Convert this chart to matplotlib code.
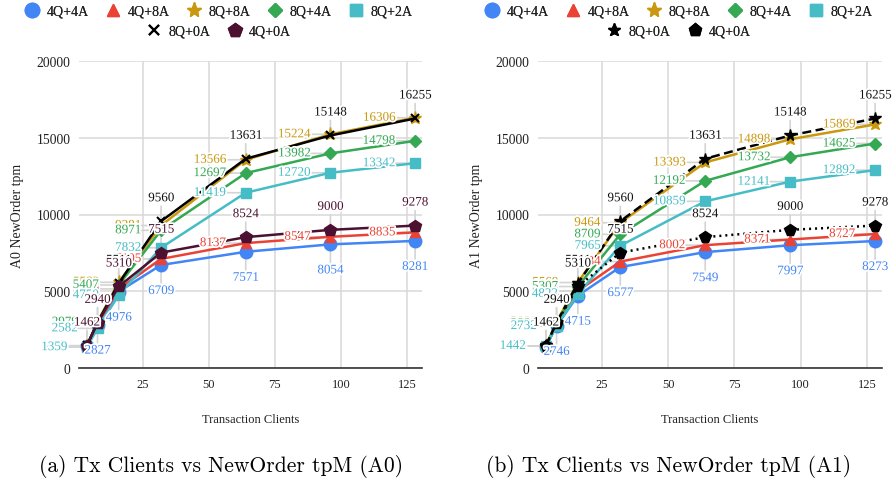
import matplotlib
matplotlib.use("Agg")
import matplotlib.pyplot as plt
from matplotlib.lines import Line2D
import matplotlib.patheffects as pe

plt.rcParams['font.family'] = ['Liberation Serif', 'DejaVu Serif']

clients = [4, 8, 16, 32, 64, 96, 128]
series_names = ["4Q+4A", "4Q+8A", "8Q+8A", "8Q+4A", "8Q+2A", "8Q+0A", "4Q+0A"]

a0_4q4a = [1410, 2827, 4976, 6709, 7571, 8054, 8281]
a0_4q8a = [1440, 2890, 5150, 7105, 8137, 8547, 8835]
a0_8q8a = [1455, 3012, 5583, 9281, 13566, 15224, 16306]
a0_8q4a = [1445, 2979, 5407, 8971, 12697, 13982, 14798]
a0_8q2a = [1359, 2582, 4750, 7832, 11419, 12720, 13342]
a0_8q0a = [1470, 2960, 5511, 9560, 13631, 15148, 16255]
a0_4q0a = [1462, 2940, 5310, 7515, 8524, 9000, 9278]

a1_4q4a = [1400, 2746, 4715, 6577, 7549, 7997, 8273]
a1_4q8a = [1430, 2840, 5020, 6934, 8002, 8371, 8727]
a1_8q8a = [1442, 3000, 5569, 9464, 13393, 14898, 15869]
a1_8q4a = [1438, 2880, 5307, 8709, 12192, 13732, 14625]
a1_8q2a = [1442, 2732, 4823, 7965, 10859, 12141, 12892]
a1_8q0a = [1470, 2960, 5511, 9560, 13631, 15148, 16255]
a1_4q0a = [1462, 2940, 5310, 7515, 8524, 9000, 9278]

x_ticks = [25, 50, 75, 100, 125]
y_ticks = [0, 5000, 10000, 15000, 20000]

BLUE = "#4285F4"
RED = "#EA4335"
GOLD = "#C9980E"
GREEN = "#34A853"
CYAN = "#46BDC6"
PURPLE = "#4C1130"
BLACK = "#000000"

label_pos = ["below", "left", "left", "left", "left", "above", "above"]

styles_a0 = [
    dict(color=BLUE, marker='o', ms=9, ls='-'),
    dict(color=RED, marker='^', ms=7.5, ls='-'),
    dict(color=GOLD, marker='*', ms=9.5, ls='-'),
    dict(color=GREEN, marker='D', ms=6, ls='-'),
    dict(color=CYAN, marker='s', ms=7, ls='-'),
    dict(color=BLACK, marker='x', ms=6, ls='-', mew=1.5),
    dict(color=PURPLE, marker='p', ms=9, ls='-'),
]
styles_a1 = [
    dict(color=BLUE, marker='o', ms=9, ls='-'),
    dict(color=RED, marker='^', ms=7.5, ls='-'),
    dict(color=GOLD, marker='*', ms=9.5, ls='-'),
    dict(color=GREEN, marker='D', ms=6, ls='-'),
    dict(color=CYAN, marker='s', ms=7, ls='-'),
    dict(color=BLACK, marker='*', ms=8.5, ls=(0, (3.6, 1.8))),
    dict(color=BLACK, marker='p', ms=8.5, ls=(0, (0.8, 1.6))),
]

fig = plt.figure(figsize=(8.92, 4.89), dpi=100)
W, H = 892, 489

def px(v):
    return v * 0.72  # pixels -> points at 100 dpi

def draw_panel(ax, data, styles, ylabel):
    ax.set_xlim(1, 130.6)
    ax.set_ylim(0, 20000)
    ax.set_xticks(x_ticks)
    ax.set_yticks(y_ticks)
    ax.grid(True, color="#d9d9d9", lw=1.1, zorder=0)
    ax.set_axisbelow(True)
    for s in ['top', 'right', 'left']:
        ax.spines[s].set_visible(False)
    ax.spines['bottom'].set_color('#333333')
    ax.spines['bottom'].set_linewidth(1.2)
    ax.tick_params(axis='both', length=0, colors='#222222')
    ax.tick_params(axis='y', labelsize=9.8, pad=6)
    ax.tick_params(axis='x', labelsize=9, pad=7)
    ax.set_xlabel("Transaction Clients", fontsize=9, labelpad=17, color='#222222')
    ax.set_ylabel(ylabel, fontsize=10, labelpad=9, color='#222222')

    for i, (vals, st) in enumerate(zip(data, styles)):
        ax.plot(clients, vals, color=st['color'], ls=st['ls'], lw=1.8,
                marker=st['marker'], ms=st['ms'], mew=st.get('mew', 1),
                zorder=3 + i * 0.1)
    # leader lines and labels
    for i, (vals, st) in enumerate(zip(data, styles)):
        pos = label_pos[i]
        tcol = st['color'] if st['color'] != BLACK else '#111111'
        for xv, yv in zip(clients, vals):
            if pos == "above":
                off = (0, px(23)); lend = (0, px(15)); ha, va = 'center', 'center'
            elif pos == "below":
                if yv < 2000:
                    continue  # label falls below the plotting area (not shown)
                off = (0, -px(26)); lend = (0, -px(18)); ha, va = 'center', 'center'
            else:
                off = (-px(20), 0); lend = (-px(20), 0); ha, va = 'right', 'center'
            ax.annotate('', xy=(xv, yv), xytext=lend, textcoords='offset points',
                        arrowprops=dict(arrowstyle='-', color='#d4d4d4', lw=1.2,
                                        shrinkA=0, shrinkB=0),
                        zorder=2, annotation_clip=False)
            t = ax.annotate(str(yv), xy=(xv, yv), xytext=off, textcoords='offset points',
                            ha=ha, va=va, fontsize=9.4, color=tcol,
                            zorder=10 + i * 0.1, annotation_clip=False)
            t.set_path_effects([pe.withStroke(linewidth=2.5, foreground='white')])


def legend_rows(styles, cx, fig):
    handles = [Line2D([], [], ls='none', marker=st['marker'], color=st['color'],
                      ms=(st['ms'] * 1.15 if st['marker'] != 'x' else 7),
                      mew=st.get('mew', 1)) for st in styles]
    rows = [(handles[:5], series_names[:5], 1 - 12 / H), (handles[5:], series_names[5:], 1 - 32 / H)]
    for hs, ls, y in rows:
        lg = fig.legend(hs, ls, loc='center', bbox_to_anchor=(cx / W, y), ncol=len(hs),
                        frameon=False, fontsize=10, handlelength=1.0, handletextpad=0.55,
                        columnspacing=1.25, borderpad=0, borderaxespad=0)
        for txt in lg.get_texts():
            txt.set_color('#222222')
        fig.add_artist(lg)


ax1 = fig.add_axes([79 / W, 120 / H, 343 / W, 307 / H])
ax2 = fig.add_axes([538 / W, 120 / H, 344 / W, 307 / H])

draw_panel(ax1, [a0_4q4a, a0_4q8a, a0_8q8a, a0_8q4a, a0_8q2a, a0_8q0a, a0_4q0a],
           styles_a0, "A0 NewOrder tpm")
draw_panel(ax2, [a1_4q4a, a1_4q8a, a1_8q8a, a1_8q4a, a1_8q2a, a1_8q0a, a1_4q0a],
           styles_a1, "A1 NewOrder tpm")

legend_rows(styles_a0, 219, fig)
legend_rows(styles_a1, 679, fig)

fig.text(221 / W, 1 - 467 / H, "(a) Tx Clients vs NewOrder tpM (A0)", ha='center', va='center',
         family='cmr10', fontsize=15.5)
fig.text(669 / W, 1 - 467 / H, "(b) Tx Clients vs NewOrder tpM (A1)", ha='center', va='center',
         family='cmr10', fontsize=15.5)

fig.savefig("out.png", dpi=100)
